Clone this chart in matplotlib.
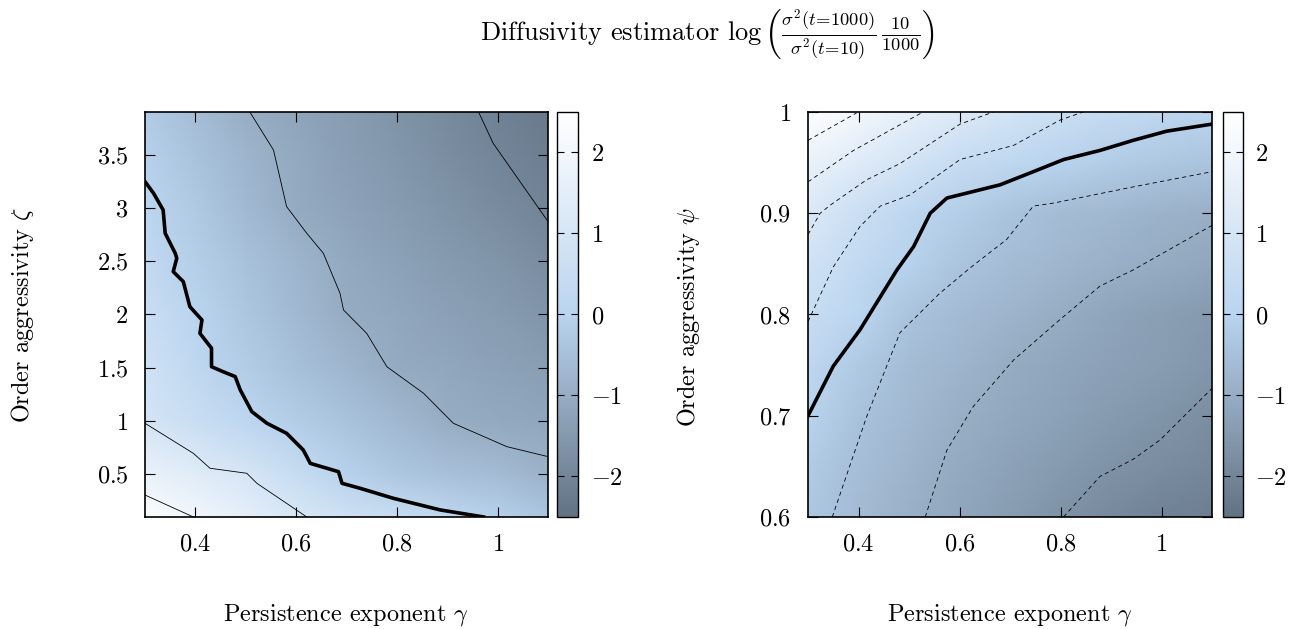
import numpy as np
import matplotlib.pyplot as plt
from matplotlib.colors import LinearSegmentedColormap
from matplotlib.ticker import FuncFormatter

plt.rcParams['font.family'] = 'serif'
plt.rcParams['font.serif'] = ['cmr10']
plt.rcParams['mathtext.fontset'] = 'cm'
plt.rcParams['font.size'] = 17.5

# grid (left panel: gamma vs zeta)
gamma = [0.3, 0.4, 0.5, 0.6, 0.7, 0.8, 0.9, 1.0, 1.1]
zeta = [0.1, 0.5, 1.0, 1.5, 2.0, 2.5, 3.0, 3.5, 3.9]
diff_zeta = [
    [2.40, 1.98, 1.55, 1.09, 0.77, 0.49, 0.20, -0.08, -0.36],
    [1.71, 1.37, 1.03, 0.49, -0.05, -0.30, -0.50, -0.62, -0.87],
    [0.97, 0.58, 0.15, -0.17, -0.44, -0.71, -0.98, -1.10, -1.17],
    [0.77, 0.20, -0.19, -0.48, -0.77, -1.04, -1.15, -1.26, -1.38],
    [0.55, 0.02, -0.33, -0.67, -1.01, -1.15, -1.30, -1.44, -1.60],
    [0.30, -0.13, -0.46, -0.80, -1.08, -1.27, -1.45, -1.62, -1.83],
    [0.11, -0.27, -0.68, -1.04, -1.24, -1.44, -1.64, -1.84, -2.04],
    [-0.08, -0.42, -0.80, -1.10, -1.33, -1.56, -1.78, -2.00, -2.20],
    [-0.20, -0.58, -0.97, -1.20, -1.42, -1.64, -1.86, -2.08, -2.28],
]

# right panel: gamma vs psi
psi = [0.6, 0.65, 0.7, 0.75, 0.8, 0.85, 0.9, 0.95, 1.0]
diff_psi = [
    [-0.30, -0.64, -0.91, -1.16, -1.40, -1.66, -1.88, -2.08, -2.20],
    [-0.20, -0.55, -0.82, -1.07, -1.26, -1.45, -1.65, -1.81, -1.95],
    [0.00, -0.43, -0.70, -0.95, -1.12, -1.28, -1.45, -1.61, -1.76],
    [0.23, -0.24, -0.59, -0.80, -1.00, -1.16, -1.30, -1.40, -1.58],
    [0.50, 0.09, -0.41, -0.64, -0.81, -0.98, -1.20, -1.35, -1.48],
    [0.83, 0.32, -0.05, -0.39, -0.60, -0.75, -0.90, -1.03, -1.15],
    [1.20, 0.64, 0.19, -0.15, -0.41, -0.60, -0.72, -0.85, -0.93],
    [1.73, 1.33, 0.93, 0.48, 0.23, -0.02, -0.18, -0.30, -0.40],
    [2.45, 2.05, 1.60, 1.24, 0.91, 0.63, 0.38, 0.22, 0.08],
]

# contour lines, left panel (levels 0, -1, -2, 1, 2)
zeta0_g = [0.300, 0.317, 0.336, 0.340, 0.360, 0.363, 0.356, 0.376, 0.389, 0.413, 0.409, 0.432, 0.432,
           0.455, 0.479, 0.489, 0.512, 0.542, 0.581, 0.614, 0.628, 0.661, 0.684, 0.691, 0.727, 0.793,
           0.886, 0.972]
zeta0_z = [3.246, 3.137, 2.980, 2.762, 2.574, 2.527, 2.402, 2.308, 2.073, 1.948, 1.823, 1.683, 1.510,
           1.463, 1.417, 1.292, 1.088, 0.979, 0.885, 0.729, 0.603, 0.557, 0.525, 0.416, 0.369, 0.275,
           0.166, 0.100]
zetam1_g = [0.508, 0.555, 0.581, 0.621, 0.654, 0.687, 0.694, 0.740, 0.780, 0.853, 0.912, 1.018, 1.100]
zetam1_z = [3.900, 3.543, 3.012, 2.762, 2.574, 2.199, 2.042, 1.823, 1.510, 1.260, 0.979, 0.760, 0.666]
zetam2_g = [0.962, 0.991, 1.100]
zetam2_z = [3.900, 3.606, 2.871]
zetap1_g = [0.300, 0.396, 0.429, 0.502, 0.522, 0.621]
zetap1_z = [0.979, 0.697, 0.557, 0.510, 0.416, 0.100]
zetap2_g = [0.300, 0.396]
zetap2_z = [0.306, 0.100]

# right panel (level 0 solid, +-0.5 steps dashed)
psi0_g = [0.300, 0.350, 0.403, 0.476, 0.509, 0.542, 0.575, 0.680, 0.746, 0.806, 0.878, 0.944, 1.010, 1.100]
psi0_p = [0.700, 0.749, 0.785, 0.844, 0.867, 0.900, 0.915, 0.928, 0.941, 0.953, 0.962, 0.972, 0.981, 0.988]
psi_a_g = [0.300, 0.350, 0.403, 0.443, 0.502, 0.601, 0.707, 0.799, 0.845]
psi_a_p = [0.793, 0.847, 0.887, 0.907, 0.918, 0.953, 0.967, 0.992, 1.000]
psi_b_g = [0.300, 0.324, 0.344, 0.416, 0.482, 0.601, 0.667]
psi_b_p = [0.879, 0.900, 0.908, 0.933, 0.949, 0.988, 1.000]
psi_c_g = [0.300, 0.390, 0.528]
psi_c_p = [0.931, 0.962, 1.000]
psi_d_g = [0.300, 0.396]
psi_d_p = [0.972, 0.999]
psi_e_g = [0.348, 0.416, 0.482, 0.561, 0.621, 0.693, 0.746, 0.786, 0.944, 1.100]
psi_e_p = [0.600, 0.699, 0.782, 0.821, 0.846, 0.874, 0.907, 0.910, 0.926, 0.941]
psi_f_g = [0.532, 0.575, 0.627, 0.707, 0.799, 0.878, 0.944, 1.100]
psi_f_p = [0.600, 0.666, 0.709, 0.755, 0.795, 0.828, 0.844, 0.888]
psi_g_g = [0.806, 0.878, 0.944, 0.997, 1.100]
psi_g_p = [0.600, 0.640, 0.657, 0.676, 0.727]

cmap = LinearSegmentedColormap.from_list('slateblue', ['#627283', '#b9d4ef', '#ffffff'])
fmt = FuncFormatter(lambda v, p: '$%g$' % v)

fig = plt.figure(figsize=(12.96, 6.29), dpi=100)
ax1 = fig.add_axes([0.1119, 0.1781, 0.3110, 0.6439])
cax1 = fig.add_axes([0.4298, 0.1781, 0.0162, 0.6439])
ax2 = fig.add_axes([0.6235, 0.1781, 0.3117, 0.6439])
cax2 = fig.add_axes([0.9437, 0.1781, 0.0154, 0.6439])

m1 = ax1.pcolormesh(gamma, zeta, np.array(diff_zeta), shading='gouraud', cmap=cmap, vmin=-2.5, vmax=2.5)
ax1.plot(zeta0_g, zeta0_z, color='k', lw=2.6)
for xs, ys in [(zetam1_g, zetam1_z), (zetam2_g, zetam2_z), (zetap1_g, zetap1_z), (zetap2_g, zetap2_z)]:
    ax1.plot(xs, ys, color='k', lw=0.6)
ax1.set_xlim(0.3, 1.1)
ax1.set_ylim(0.1, 3.9)
ax1.set_xticks([0.4, 0.6, 0.8, 1.0])
ax1.set_yticks([0.5, 1, 1.5, 2, 2.5, 3, 3.5])

m2 = ax2.pcolormesh(gamma, psi, np.array(diff_psi), shading='gouraud', cmap=cmap, vmin=-2.5, vmax=2.5)
ax2.plot(psi0_g, psi0_p, color='k', lw=2.6)
for xs, ys in [(psi_a_g, psi_a_p), (psi_b_g, psi_b_p), (psi_c_g, psi_c_p), (psi_d_g, psi_d_p),
               (psi_e_g, psi_e_p), (psi_f_g, psi_f_p), (psi_g_g, psi_g_p)]:
    ax2.plot(xs, ys, color='k', lw=0.6, dashes=(5, 4))
ax2.set_xlim(0.3, 1.1)
ax2.set_ylim(0.6, 1.0)
ax2.set_xticks([0.4, 0.6, 0.8, 1.0])
ax2.set_yticks([0.6, 0.7, 0.8, 0.9, 1.0])

for ax in [ax1, ax2]:
    ax.xaxis.set_major_formatter(fmt)
    ax.yaxis.set_major_formatter(fmt)
    ax.tick_params(direction='in', top=True, right=True, length=7, width=0.8, pad=12)
    for s in ax.spines.values():
        s.set_linewidth(1.2)

for m, cax in [(m1, cax1), (m2, cax2)]:
    cb = fig.colorbar(m, cax=cax, ticks=[-2, -1, 0, 1, 2])
    cb.ax.yaxis.set_major_formatter(fmt)
    cb.ax.tick_params(direction='in', left=True, right=True, length=5, width=0.8, pad=9)
    cb.outline.set_linewidth(1.0)

fig.text(346 / 1296, 1 - 621 / 629, r'Persistence exponent $\gamma$', ha='center', va='baseline')
fig.text(1010 / 1296, 1 - 621 / 629, r'Persistence exponent $\gamma$', ha='center', va='baseline')
fig.text(23 / 1296, 1 - 315 / 629, r'Order aggressivity $\zeta$', rotation=90, ha='center', va='center')
fig.text(689 / 1296, 1 - 317 / 629, r'Order aggressivity $\psi$', rotation=90, ha='center', va='center')
fig.text(708 / 1296, 1 - 35 / 629,
         r'Diffusivity estimator $\log\left(\frac{\sigma^2(t\!=\!1000)}{\sigma^2(t\!=\!10)}\,\frac{10}{1000}\right)$',
         ha='center', va='center', fontsize=19)

fig.savefig('out.png', dpi=100)
